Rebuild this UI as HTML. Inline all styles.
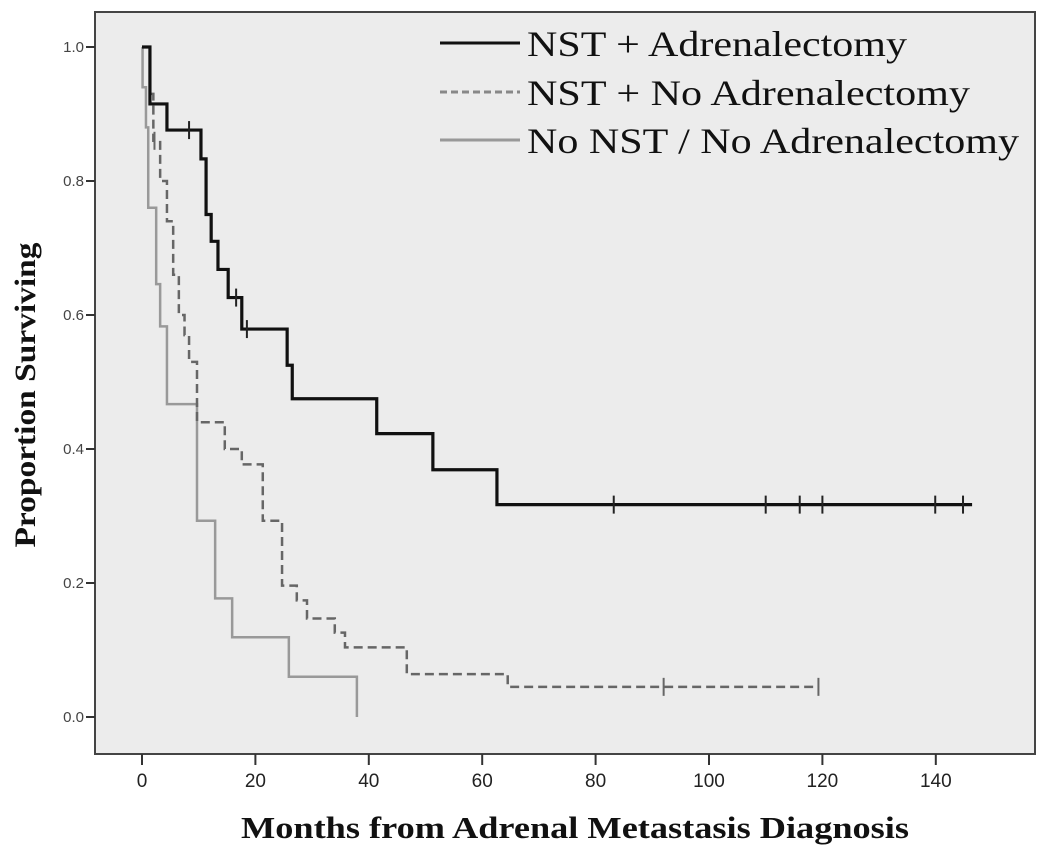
<!DOCTYPE html>
<html><head><meta charset="utf-8"><style>
html,body{margin:0;padding:0;background:#fff;}
svg{display:block;}
</style></head><body>
<svg id="chart" width="1050" height="854" xmlns="http://www.w3.org/2000/svg">
<rect x="95" y="12" width="940" height="742" fill="#ececec" stroke="#444" stroke-width="2"/>
<g id="axes"></g>
<g id="series"></g>
<text transform="translate(35,395) rotate(-90)" text-anchor="middle" font-family="Liberation Serif, serif" font-weight="bold" font-size="30" fill="#111" textLength="305" lengthAdjust="spacingAndGlyphs">Proportion Surviving</text>
<text x="575" y="838" text-anchor="middle" font-family="Liberation Serif, serif" font-weight="bold" font-size="31" fill="#111" textLength="668" lengthAdjust="spacingAndGlyphs">Months from Adrenal Metastasis Diagnosis</text>
<g>
 <line x1="440" y1="43" x2="520" y2="43" stroke="#111" stroke-width="3"/>
 <text x="527" y="56" font-family="Liberation Serif, serif" font-size="36" fill="#111" textLength="380" lengthAdjust="spacingAndGlyphs">NST + Adrenalectomy</text>
 <line x1="440" y1="92" x2="520" y2="92" stroke="#888" stroke-width="3" stroke-dasharray="7,4"/>
 <text x="527" y="105" font-family="Liberation Serif, serif" font-size="36" fill="#111" textLength="443" lengthAdjust="spacingAndGlyphs">NST + No Adrenalectomy</text>
 <line x1="440" y1="140" x2="520" y2="140" stroke="#999" stroke-width="3"/>
 <text x="527" y="153" font-family="Liberation Serif, serif" font-size="36" fill="#111" textLength="492" lengthAdjust="spacingAndGlyphs">No NST / No Adrenalectomy</text>
</g>
</svg>
<script>
const xTicks = [0,20,40,60,80,100,120,140];
const yTicks = [0.0,0.2,0.4,0.6,0.8,1.0];
const yTickLabels = ["0.0","0.2","0.4","0.6","0.8","1.0"];
// NST + Adrenalectomy
const adrTimes = [1.4,4.4,10.4,11.3,12.2,13.4,15.2,17.6,25.6,26.5,41.4,51.3,62.6];
const adrSurv  = [0.915,0.876,0.833,0.75,0.71,0.668,0.626,0.579,0.525,0.475,0.423,0.369,0.317];
const adrEnd = 146.4;
const adrCensorTimes = [8.3,16.6,18.5,83.2,110,116,120,139.9,144.8];
// NST + No Adrenalectomy
const noAdrTimes = [1.4,2.0,3.2,4.4,5.5,6.5,7.5,8.3,9.7,14.6,17.6,21.3,24.7,27.3,29.1,34,35.8,46.7,64.5];
const noAdrSurv  = [0.93,0.86,0.80,0.74,0.66,0.60,0.57,0.53,0.44,0.40,0.377,0.293,0.196,0.174,0.147,0.126,0.104,0.064,0.045];
const noAdrEnd = 119.3;
const noAdrCensorTimes = [2.2,92,119.3];
// No NST / No Adrenalectomy
const noNstTimes = [0.1,0.7,1.1,2.5,3.2,4.4,9.7,12.9,15.9,25.9,37.9];
const noNstSurv  = [0.94,0.88,0.76,0.646,0.583,0.467,0.293,0.177,0.119,0.06,0.0];
const noNstEnd = 37.9;

const X = m => 142 + m*5.67;
const Y = s => 717 - s*670;
const NS = "http://www.w3.org/2000/svg";
const axes = document.getElementById('axes');
const series = document.getElementById('series');
function mk(tag, attrs, parent){const e=document.createElementNS(NS,tag);for(const k in attrs)e.setAttribute(k,attrs[k]);parent.appendChild(e);return e;}

xTicks.forEach(t=>{
  const l=mk('line',{x1:X(t),x2:X(t),y1:754,y2:765,stroke:'#333','stroke-width':2},axes);
  
  
  const tx=mk('text',{x:X(t),y:787,'text-anchor':'middle','font-family':'Liberation Sans Narrow, Liberation Sans, sans-serif','font-size':19,fill:'#222'},axes);
  
  
  tx.textContent=t;
});
yTicks.forEach((t,i)=>{
  const l=mk('line',{x1:86,x2:95,y1:Y(t),y2:Y(t),stroke:'#333','stroke-width':2},axes);
  
  
  const tx=mk('text',{x:84,y:Y(t)+5,'text-anchor':'end','font-family':'Liberation Sans, sans-serif','font-size':15,fill:'#444'},axes);
  
  
  tx.textContent=yTickLabels[i];
});

function stepPath(times, surv, end){
  let d=`M${X(0)},${Y(1)}`;
  times.forEach((t,i)=>{d+=` H${X(t)} V${Y(surv[i])}`;});
  if(end>times[times.length-1]) d+=` H${X(end)}`;
  return d;
}
function survAt(times,surv,t){let s=1;times.forEach((tt,i)=>{if(tt<=t)s=surv[i];});return s;}

const p3=mk('path',{d:stepPath(noNstTimes,noNstSurv,noNstEnd),fill:'none',stroke:'#999','stroke-width':2.5},series);


const p2=mk('path',{d:stepPath(noAdrTimes,noAdrSurv,noAdrEnd),fill:'none',stroke:'#666','stroke-width':2.5,'stroke-dasharray':'9,5'},series);


const p1=mk('path',{d:stepPath(adrTimes,adrSurv,adrEnd),fill:'none',stroke:'#111','stroke-width':3.2},series);



function censors(times, ctimes, surv, color, name){
  ctimes.forEach(t=>{
    const s=survAt(times,surv,t);
    const c=mk('line',{x1:X(t),x2:X(t),y1:Y(s)-9,y2:Y(s)+9,stroke:color,'stroke-width':2},series);
    
    
  });
}
censors(adrTimes,adrCensorTimes,adrSurv,'#222','adrenalectomy-censor');
censors(noAdrTimes,noAdrCensorTimes,noAdrSurv,'#666','no-adrenalectomy-censor');
</script>
</body></html>
